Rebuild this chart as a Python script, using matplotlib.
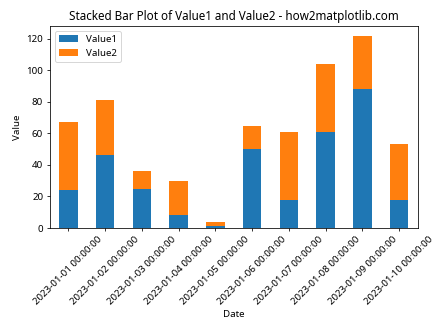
import numpy as np
import matplotlib.pyplot as plt

plt.rcParams['font.family'] = ['Noto Sans', 'DejaVu Sans']

dates = ['2023-01-01 00:00:00', '2023-01-02 00:00:00', '2023-01-03 00:00:00',
         '2023-01-04 00:00:00', '2023-01-05 00:00:00', '2023-01-06 00:00:00',
         '2023-01-07 00:00:00', '2023-01-08 00:00:00', '2023-01-09 00:00:00',
         '2023-01-10 00:00:00']
value1 = [24, 46, 25, 8, 1, 50, 18, 61, 88, 18]
value2 = [43, 35, 11, 22, 3, 15, 43, 43, 34, 35]

fig, ax = plt.subplots(figsize=(6.4, 4.8), dpi=70)
x = np.arange(len(dates))
ax.bar(x, value1, width=0.5, color='#1f77b4', label='Value1')
ax.bar(x, value2, width=0.5, bottom=value1, color='#ff7f0e', label='Value2')

ax.set_xlim(-0.5, len(dates) - 0.5)
ax.set_xticks(x)
ax.set_xticklabels(dates, rotation=45)
ax.set_xlabel('Date')
ax.set_ylabel('Value')
ax.set_title('Stacked Bar Plot of Value1 and Value2 - how2matplotlib.com')
ax.legend(loc='upper left')

plt.subplots_adjust(left=0.1116, right=0.932, top=0.9226, bottom=0.3214)
plt.savefig('out.png')
